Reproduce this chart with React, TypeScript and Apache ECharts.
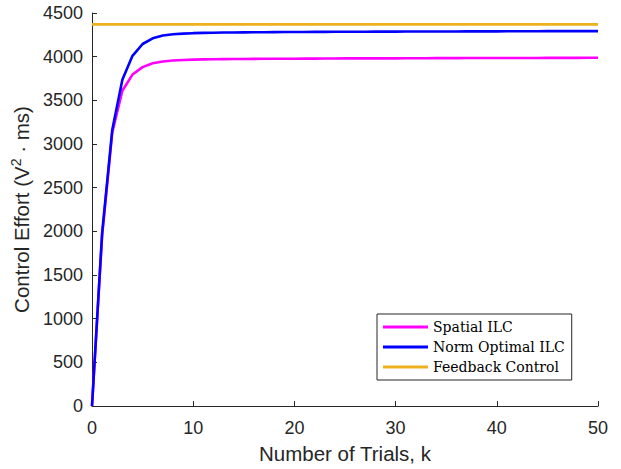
import React, { useEffect, useRef } from "react";
import * as echarts from "echarts";

const trials = [
  0, 1, 2, 3, 4, 5, 6, 7, 8, 9, 10, 11, 12, 13, 14, 15, 16, 17, 18, 19, 20, 21, 22, 23, 24, 25,
  26, 27, 28, 29, 30, 31, 32, 33, 34, 35, 36, 37, 38, 39, 40, 41, 42, 43, 44, 45, 46, 47, 48, 49, 50,
];

const spatialILC = [
  0, 1950, 3130, 3610, 3795, 3880, 3925, 3945, 3956, 3962, 3966, 3969, 3971, 3972, 3973, 3974,
  3975, 3976, 3976, 3977, 3977, 3978, 3978, 3979, 3979, 3980, 3980, 3980, 3981, 3981, 3981, 3982,
  3982, 3982, 3983, 3983, 3983, 3984, 3984, 3984, 3984, 3985, 3985, 3985, 3985, 3986, 3986, 3986,
  3986, 3987, 3987,
];

const normOptimalILC = [
  0, 1980, 3160, 3735, 4010, 4145, 4210, 4242, 4256, 4264, 4269, 4272, 4274, 4276, 4277, 4278,
  4279, 4280, 4281, 4282, 4283, 4283, 4284, 4284, 4285, 4285, 4286, 4286, 4287, 4287, 4287, 4288,
  4288, 4288, 4289, 4289, 4289, 4290, 4290, 4290, 4290, 4291, 4291, 4291, 4291, 4292, 4292, 4292,
  4292, 4292, 4293,
];

const feedbackControl = [
  4370, 4370, 4370, 4370, 4370, 4370, 4370, 4370, 4370, 4370, 4370, 4370, 4370, 4370, 4370, 4370,
  4370, 4370, 4370, 4370, 4370, 4370, 4370, 4370, 4370, 4370, 4370, 4370, 4370, 4370, 4370, 4370,
  4370, 4370, 4370, 4370, 4370, 4370, 4370, 4370, 4370, 4370, 4370, 4370, 4370, 4370, 4370, 4370,
  4370, 4370, 4370,
];

const seriesNames = ["Spatial ILC", "Norm Optimal ILC", "Feedback Control"];
const seriesColors = ["#ff00ff", "#0000ff", "#edb120"];

const axisColor = "#262626";
const sans = "'Liberation Sans', Arial, Helvetica, sans-serif";
const serif = "'DejaVu Serif', 'Liberation Serif', serif";

export default function App() {
  const ref = useRef<HTMLDivElement>(null);

  useEffect(() => {
    document.body.style.margin = "0";
    const chart = echarts.init(ref.current!, null, { renderer: "svg" });
    const allData = [spatialILC, normOptimalILC, feedbackControl];
    chart.setOption({
      animation: false,
      backgroundColor: "#ffffff",
      grid: { left: 92, right: 23, top: 13, bottom: 62, containLabel: false },
      legend: {
        orient: "vertical",
        left: 377,
        top: 314,
        data: seriesNames.map((n) => ({ name: n, icon: "rect" })),
        itemWidth: 45,
        itemHeight: 3,
        itemGap: 4,
        padding: [5, 7, 5, 6],
        borderColor: axisColor,
        borderWidth: 1,
        backgroundColor: "#ffffff",
        selectedMode: false,
        textStyle: { fontFamily: serif, fontSize: 14, color: "#000000", lineHeight: 16 },
      },
      xAxis: {
        type: "value",
        min: 0,
        max: 50,
        interval: 10,
        name: "Number of Trials, k",
        nameLocation: "middle",
        nameGap: 37,
        nameTextStyle: { fontFamily: sans, fontSize: 20.5, color: axisColor },
        axisLine: { show: true, lineStyle: { color: axisColor, width: 1 } },
        axisTick: { show: true, inside: true, length: 5, lineStyle: { color: axisColor } },
        axisLabel: { fontFamily: sans, fontSize: 18, color: axisColor, margin: 13 },
        splitLine: { show: false },
      },
      yAxis: {
        type: "value",
        min: 0,
        max: 4500,
        interval: 500,
        name: "{n|Control Effort (V}{s|2}{n| · ms)}",
        nameLocation: "middle",
        nameGap: 47,
        nameTextStyle: {
          fontFamily: sans,
          fontSize: 20.5,
          color: axisColor,
          rich: {
            n: { fontFamily: sans, fontSize: 20.5, color: axisColor, lineHeight: 26 },
            s: { fontFamily: sans, fontSize: 14, color: axisColor, verticalAlign: "top", lineHeight: 26 },
          },
        },
        axisLine: { show: true, lineStyle: { color: axisColor, width: 1 } },
        axisTick: { show: true, inside: true, length: 5, lineStyle: { color: axisColor } },
        axisLabel: {
          fontFamily: sans,
          fontSize: 18,
          color: axisColor,
          margin: 9,
          formatter: (v: number) => String(v),
        },
        splitLine: { show: false },
      },
      series: seriesNames.map((name, i) => ({
        name,
        type: "line",
        data: trials.map((k, j) => [k, allData[i][j]]),
        showSymbol: false,
        symbol: "none",
        lineStyle: { color: seriesColors[i], width: 2.6 },
        itemStyle: { color: seriesColors[i] },
        z: i === 1 ? 3 : 2,
      })),
    });
    return () => chart.dispose();
  }, []);

  return (
    <div
      ref={ref}
      style={{ position: "absolute", left: 0, top: 0, width: 621, height: 469 }}
    />
  );
}
